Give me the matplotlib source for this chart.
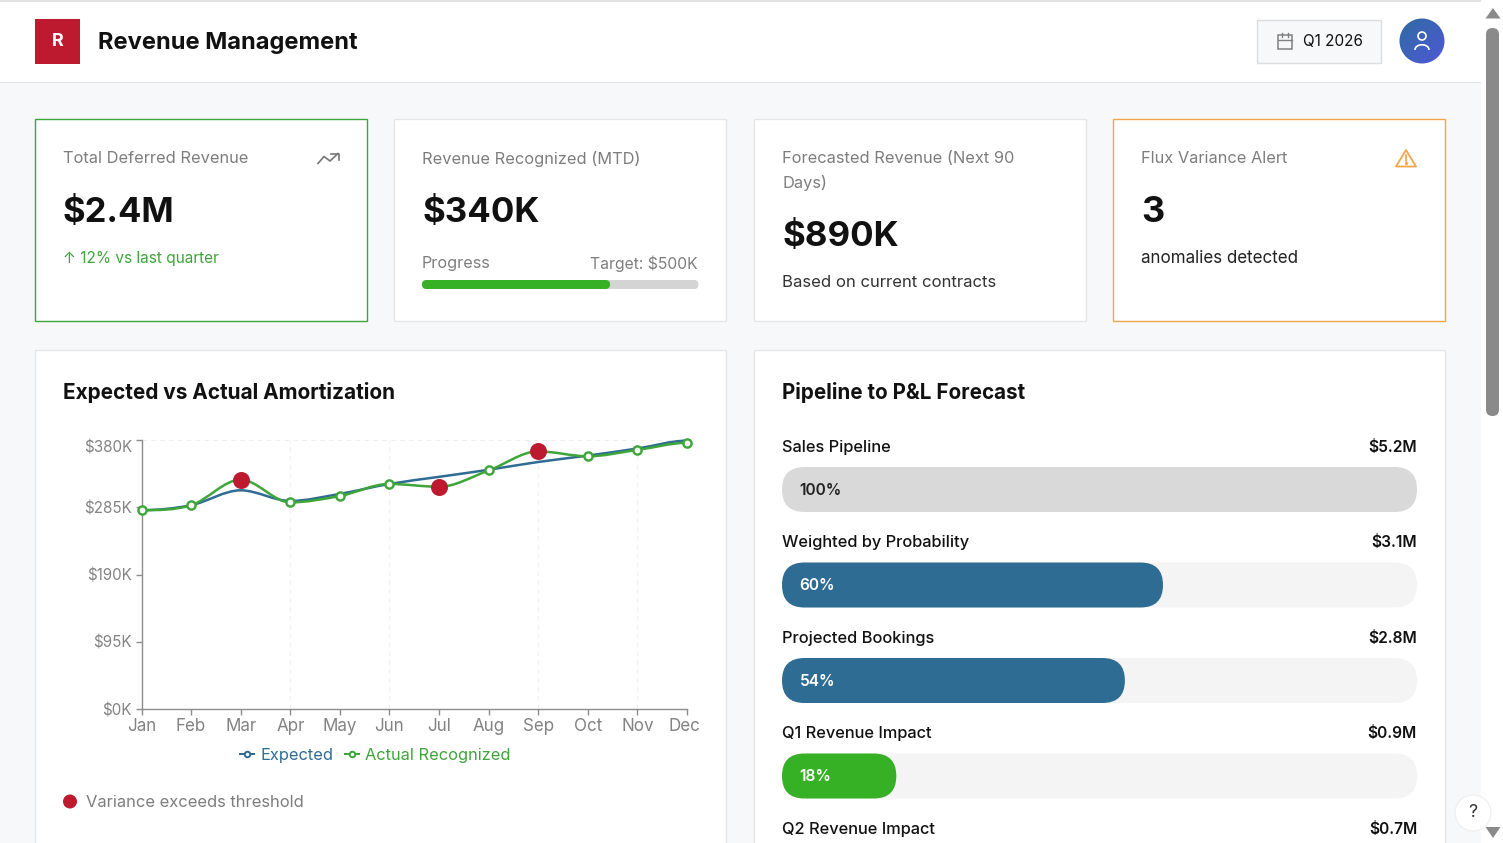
import numpy as np
import matplotlib
matplotlib.use("Agg")
import matplotlib.pyplot as plt
from matplotlib.lines import Line2D
from matplotlib.patches import Circle, FancyBboxPatch, PathPatch, Polygon, Rectangle
from matplotlib.path import Path
from matplotlib.transforms import ScaledTranslation

plt.rcParams['font.family'] = ['Inter', 'DejaVu Sans']

# dados do grafico
months = ['Jan', 'Feb', 'Mar', 'Apr', 'May', 'Jun', 'Jul', 'Aug', 'Sep', 'Oct', 'Nov', 'Dec']
expected = [281, 288, 309, 294, 304, 318, 328, 338, 349, 358, 368, 379]
actual = [281, 288, 324, 292, 301, 318, 314, 337, 364, 357, 366, 376]
y_ticks = [0, 95, 190, 285, 380]
grid_months = ['Apr', 'Jun', 'Sep', 'Nov']
threshold = 10

# funil
stages = ['Sales Pipeline', 'Weighted by Probability', 'Projected Bookings',
          'Q1 Revenue Impact', 'Q2 Revenue Impact']
stage_values = ['$5.2M', '$3.1M', '$2.8M', '$0.9M', '$0.7M']
stage_pct = [100, 60, 54, 18]

recognized = 340
target = 500

W, H = 1503, 843
INK = '#111111'
GREY = '#7d7d7d'
RED = '#BE1A2F'
GREEN = '#36B024'
GREEN_LINE = '#3DA53A'
BLUE = '#2F6C94'
ORANGE = '#F2A54A'
BORDER = '#E6E6E6'


def px(v):
    return v * 0.72


fig = plt.figure(figsize=(W / 100, H / 100), dpi=100)
ui = fig.add_axes([0, 0, 1, 1])
ui.set_xlim(0, W)
ui.set_ylim(H, 0)
ui.axis('off')


def rect(x0, y0, x1, y1, fc, ec='none', lw=1.0, z=1):
    ui.add_patch(Rectangle((x0, y0), x1 - x0, y1 - y0, fc=fc, ec=ec, lw=lw, zorder=z))


def pill(x0, y0, x1, y1, fc, z=2):
    r = min(x1 - x0, y1 - y0) / 2
    ui.add_patch(FancyBboxPatch((x0 + r, y0 + r), x1 - x0 - 2 * r, y1 - y0 - 2 * r,
                                boxstyle=f'round,pad={r},rounding_size={r}',
                                fc=fc, ec='none', zorder=z))


def label(x, y, s, size, color=INK, weight='normal', ha='left'):
    # Inter fica um pouco acima do centro
    ui.text(x, y + size * 0.11, s, fontsize=px(size), color=color, fontweight=weight,
            ha=ha, va='center', zorder=5)


# fundo e cabecalho
rect(0, 0, W, H, '#F7F8FA', z=0)
rect(0, 0, 1481, 82, 'white')
rect(0, 82, 1481, 83, '#E4E4E4')
rect(0, 0, W, 1.5, '#E2E2E2')
rect(1481, 0, W, H, 'white')
rect(35, 19, 80, 64, RED)
label(57.5, 40, 'R', 18, 'white', 'bold', ha='center')
label(98, 40, 'Revenue Management', 23.7, INK, 'bold')

# botao de data
rect(1257, 20, 1381, 62.5, '#F7F8FA', '#DDDDE0', 1)
rect(1278, 35, 1292, 49, 'none', '#808080', 1.1, z=3)
ui.plot([1278, 1292], [39.5, 39.5], color='#808080', lw=1, zorder=3)
ui.plot([1282, 1282], [33, 36.5], color='#808080', lw=1, zorder=3)
ui.plot([1288, 1288], [33, 36.5], color='#808080', lw=1, zorder=3)
label(1303, 40, 'Q1 2026', 15.3, INK)

# avatar com gradiente
avatar = Circle((1422, 41), 22.5, transform=ui.transData)
grad = np.linspace(0, 1, 64)[None, :] * 0.5 + np.linspace(0, 1, 64)[:, None] * 0.5
cmap = matplotlib.colors.LinearSegmentedColormap.from_list('av', ['#2F6C9F', '#4F57D8'])
im = ui.imshow(grad, extent=(1399, 1445, 64, 18), cmap=cmap, aspect='auto', zorder=2)
im.set_clip_path(avatar)
ui.set_xlim(0, W)
ui.set_ylim(H, 0)
ui.add_patch(Circle((1422, 36), 4, fc='none', ec='white', lw=1.2, zorder=3))
ui.add_patch(PathPatch(Path([(1415, 50), (1415, 43), (1429, 43), (1429, 50)],
                            [Path.MOVETO, Path.CURVE4, Path.CURVE4, Path.CURVE4]),
                       fc='none', ec='white', lw=1.2, zorder=3))

# barra de rolagem e ajuda
pill(1486, 28, 1499, 416, '#8A8A8A')
ui.add_patch(Polygon([(1493, 8), (1485.5, 18.5), (1500.5, 18.5)], fc='#8A8A8A', ec='none', zorder=3))
ui.add_patch(Polygon([(1493, 838), (1485.5, 827), (1500.5, 827)], fc='#8A8A8A', ec='none', zorder=4))
ui.add_patch(Circle((1473, 813), 18, fc='white', ec='#F0F0F0', lw=1, zorder=3))
label(1473, 811, '?', 18, '#333333', ha='center')

# cartoes
cards = [(35, '#3DA53A'), (394, BORDER), (754, BORDER), (1113, ORANGE)]
for cx, edge in cards:
    rect(cx, 119, cx + 331.5, 321, 'white', edge, 1)

label(63, 157, 'Total Deferred Revenue', 16.4, GREY)
label(63, 209, '$2.4M', 34.6, INK, 'bold')
label(63, 257, '↑ 12% vs last quarter', 15.4, GREEN_LINE)
ui.plot([318, 324, 330, 338], [163.5, 156.5, 161, 153.5], color='#777777', lw=1.2, zorder=3)
ui.plot([331, 338.5, 338.5], [153.5, 153.5, 160], color='#777777', lw=1.2, zorder=3)

label(422, 157, 'Revenue Recognized (MTD)', 16.4, GREY)
label(422, 209, '$340K', 34.8, INK, 'bold')
label(422, 262, 'Progress', 16.2, GREY)
label(698, 262, 'Target: $500K', 15.7, GREY, ha='right')
pill(422, 280, 698.5, 289, '#D4D4D4')
pill(422, 280, 422 + 276.5 * recognized / target, 289, GREEN, z=3)

label(782, 157, 'Forecasted Revenue (Next 90', 16.4, GREY)
label(782, 181, 'Days)', 16.4, GREY)
label(782, 233, '$890K', 34.8, INK, 'bold')
label(782, 281, 'Based on current contracts', 16.7, '#333333')

label(1141, 157, 'Flux Variance Alert', 16.4, GREY)
label(1141, 209, '3', 36, INK, 'bold')
label(1141, 257, 'anomalies detected', 17, '#222222')
ui.add_patch(Polygon([(1406, 150), (1416, 166.5), (1396, 166.5)], closed=True, fc='none',
                     ec=ORANGE, lw=1.3, joinstyle='round', zorder=3))
ui.plot([1406, 1406], [155, 160.5], color=ORANGE, lw=1.2, zorder=3)
ui.plot([1406], [163.3], 'o', color=ORANGE, ms=1.3, zorder=3)

# paineis
rect(35, 350, 726, 850, 'white', BORDER, 1)
rect(754, 350, 1445, 850, 'white', BORDER, 1)
label(63, 390, 'Expected vs Actual Amortization', 20.8, INK, 'bold')
label(782, 390, 'Pipeline to P&L Forecast', 20.6, INK, 'bold')

# funil
track_x, track_w = 782, 635
for i, (stage, value) in enumerate(zip(stages, stage_values)):
    y = 445.5 + 95.5 * i
    label(782, y, stage, 16.4, INK, 'medium')
    label(1417, y, value, 15.5, INK, 'semibold', ha='right')
for i, pct in enumerate(stage_pct):
    y0 = 467 + 95.5 * i
    if pct == 100:
        color, text_color = '#D9D9D9', '#222222'
    elif pct < 25:
        color, text_color = GREEN, 'white'
    else:
        color, text_color = BLUE, 'white'
    if pct < 100:
        pill(track_x, y0, track_x + track_w, y0 + 45, '#F4F4F4')
    pill(track_x, y0, track_x + track_w * pct / 100, y0 + 45, color, z=3)
    label(track_x + 17.5, y0 + 21.5, f'{pct}%', 15.5, text_color, 'semibold')

# grafico de linhas
x0, x1, y0, y1 = 141.5, 687, 709.3, 440
ax = fig.add_axes([x0 / W, 1 - y0 / H, (x1 - x0) / W, (y0 - y1) / H])
ax.patch.set_alpha(0)
x = np.arange(len(months))
ax.set_xlim(0, len(months) - 1)
ax.set_ylim(0, 380)


def smooth_path(xs, ys):
    ys = np.asarray(ys, float)
    slopes = np.zeros(len(ys))
    for i in range(1, len(ys) - 1):
        if (ys[i] - ys[i - 1]) * (ys[i + 1] - ys[i]) > 0:
            slopes[i] = (ys[i + 1] - ys[i - 1]) / 2
    verts = [(xs[0], ys[0])]
    codes = [Path.MOVETO]
    for i in range(len(ys) - 1):
        verts += [(xs[i] + 1 / 3, ys[i] + slopes[i] / 3),
                  (xs[i + 1] - 1 / 3, ys[i + 1] - slopes[i + 1] / 3),
                  (xs[i + 1], ys[i + 1])]
        codes += [Path.CURVE4] * 3
    return Path(verts, codes)


ax.add_patch(PathPatch(smooth_path(x, expected), fc='none', ec=BLUE, lw=px(2.5), zorder=3, clip_on=False))
ax.add_patch(PathPatch(smooth_path(x, actual), fc='none', ec=GREEN_LINE, lw=px(2.5), zorder=4, clip_on=False))
ax.plot(x, actual, ls='none', marker='o', ms=px(8.2), mfc='white', mec=GREEN_LINE, mew=px(2.4),
        zorder=5, clip_on=False)
flag = np.abs(np.array(actual) - np.array(expected)) > threshold
ax.plot(x[flag], np.array(actual)[flag], ls='none', marker='o', ms=px(17), color=RED, mew=0,
        zorder=6, clip_on=False)

for s in ['top', 'right']:
    ax.spines[s].set_visible(False)
for s in ['left', 'bottom']:
    ax.spines[s].set_color('#8C8C8C')
    ax.spines[s].set_linewidth(1)
ax.set_xticks(x, months)
ax.set_yticks(y_ticks, [f'${v}K' for v in y_ticks])
ax.tick_params(axis='both', colors='#8C8C8C', labelcolor='#838383', length=px(6), width=1, pad=2)
ax.tick_params(axis='x', labelsize=px(17))
ax.tick_params(axis='y', labelsize=px(15.2), pad=2.5)
ax.axhline(y_ticks[-1], ls=(0, (4, 4)), color='#EFEFEF', lw=0.8, zorder=1, clip_on=False)
for m in grid_months:
    ax.axvline(months.index(m), ls=(0, (4, 4)), color='#F1F1F1', lw=0.8, zorder=1)
top_label = ax.get_yticklabels()[-1]
top_label.set_transform(top_label.get_transform() + ScaledTranslation(0, -6 / 100, fig.dpi_scale_trans))
dec_label = ax.get_xticklabels()[-1]
dec_label.set_transform(dec_label.get_transform() + ScaledTranslation(-2.5 / 100, 0, fig.dpi_scale_trans))

handles = [Line2D([], [], color=BLUE, lw=px(2), marker='o', ms=px(5.5), mfc='white', mec=BLUE, mew=px(2)),
           Line2D([], [], color=GREEN_LINE, lw=px(2), marker='o', ms=px(5.5), mfc='white', mec=GREEN_LINE, mew=px(2))]
leg = fig.legend(handles, ['Expected', 'Actual Recognized'], ncol=2, frameon=False, loc='center',
                 bbox_to_anchor=(375.5 / W, 1 - 755.5 / H), fontsize=px(16.4), handlelength=0.85,
                 handletextpad=0.37, columnspacing=0.73, labelcolor='linecolor')

ui.add_patch(Circle((70, 801.5), 7, fc=RED, ec='none', zorder=3))
label(86, 800.5, 'Variance exceeds threshold', 16.5, GREY)

fig.savefig('out.png', dpi=100)
